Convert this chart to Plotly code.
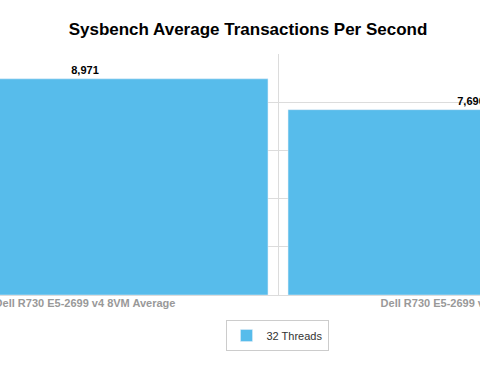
import plotly.graph_objects as go

categories = ["Dell R730 E5-2699 v4 8VM Average", "Dell R730 E5-2699 v4 1VM Average"]
values = [8971, 7690]
series_name = "32 Threads"
bar_color = "#57BCEB"

fig = go.Figure()
fig.add_trace(go.Bar(
    x=categories, y=values, name=series_name,
    marker=dict(color=bar_color),
    width=0.948,
    text=[f"{v:,}" for v in values],
    textposition="outside",
    textfont=dict(family="Liberation Sans", size=11, color="#000000", weight="bold"),
    cliponaxis=False,
))

fig.update_layout(
    width=480, height=379,
    margin=dict(l=0, r=0, t=54, b=84, autoexpand=False),
    paper_bgcolor="white", plot_bgcolor="white",
    title=dict(text="<b>Sysbench Average Transactions Per Second</b>",
               x=248/480, xanchor="center", y=1 - 29/379, yanchor="middle",
               font=dict(family="Liberation Sans", size=17, color="#000000")),
    showlegend=True,
    legend=dict(orientation="h", x=277/480, xanchor="center", y=-25/241, yanchor="top",
                bordercolor="#cccccc", borderwidth=1, itemwidth=30,
                font=dict(family="Liberation Sans", size=11, color="#333333")),
    bargap=0.052,
)
fig.update_xaxes(
    type="category",
    range=[-0.2202, 1.0233], autorange=False, automargin=False,
    tickson="boundaries",
    showgrid=True, gridcolor="#dcdcdc", gridwidth=1,
    ticks="", showline=False, zeroline=False,
    tickfont=dict(family="Liberation Sans", size=11, color="#999999", weight="bold"),
)
fig.update_yaxes(
    range=[0, 10000], dtick=2000, automargin=False,
    showgrid=True, gridcolor="#dcdcdc", gridwidth=1,
    showticklabels=False, zeroline=True, zerolinecolor="#dcdcdc", zerolinewidth=1,
)

fig.write_html("out.html",
               config={"displayModeBar": False},
               post_script="document.body.style.margin='0';document.body.style.overflow='hidden';")
